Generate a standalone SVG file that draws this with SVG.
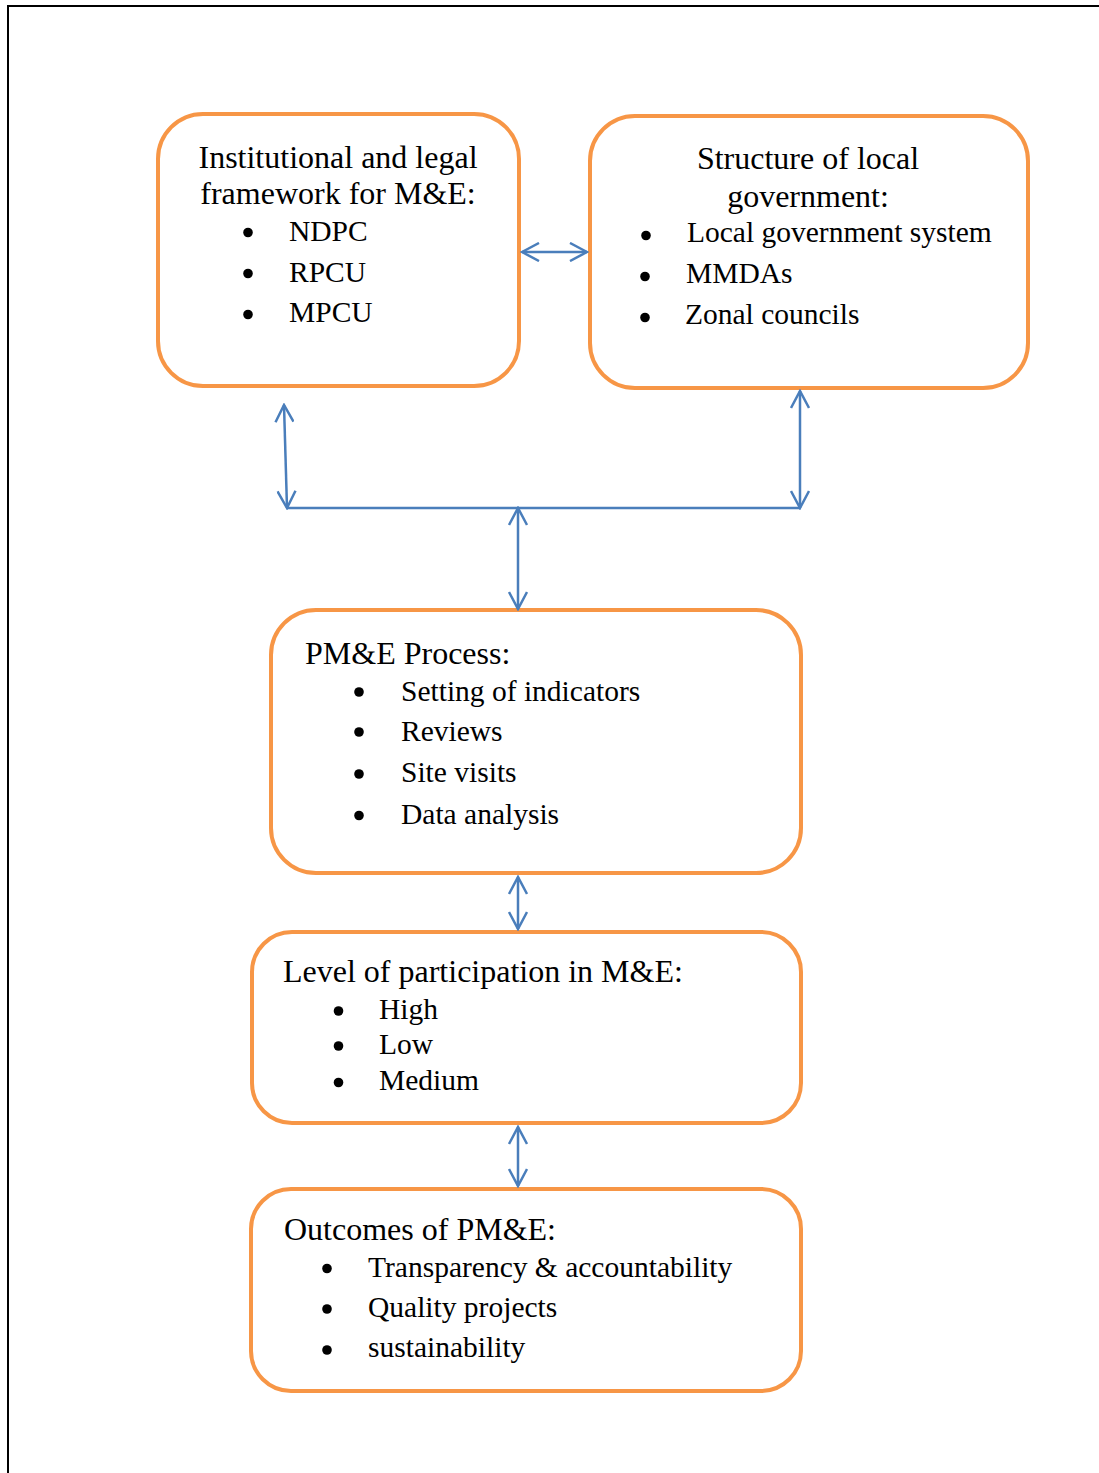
<svg xmlns="http://www.w3.org/2000/svg" width="1099" height="1473" viewBox="0 0 1099 1473">
<style>
.box{fill:#fff;stroke:#F79646;stroke-width:4}
.h{font-family:"Liberation Serif","Times New Roman",serif;font-size:32px;fill:#000}
.t{font-family:"Liberation Serif","Times New Roman",serif;font-size:29.5px;fill:#000}
.b{fill:#000}
.c{fill:none;stroke:#4A7EBB;stroke-width:2.5}
</style>
<defs>
<marker id="ah" viewBox="0 0 20 20" refX="18" refY="10" markerWidth="20" markerHeight="20" markerUnits="userSpaceOnUse" orient="auto-start-reverse">
<path d="M1,1 L18,10 L1,19" fill="none" stroke="#4A7EBB" stroke-width="2.5"/>
</marker>
</defs>
<rect width="1099" height="1473" fill="#fff"/>
<path d="M8,1473 V6 H1099" fill="none" stroke="#000" stroke-width="2"/>
<g id="nodeA">
<rect class="box" x="158" y="114" width="361" height="272" rx="45"/>
<text class="h" x="338" y="168" text-anchor="middle">Institutional and legal</text>
<text class="h" x="338" y="204" text-anchor="middle">framework for M&amp;E:</text>
<circle class="b" cx="248" cy="232.5" r="4.8"/><text class="t" x="289" y="241">NDPC</text>
<circle class="b" cx="248" cy="273.5" r="4.8"/><text class="t" x="289" y="282">RPCU</text>
<circle class="b" cx="248" cy="314.5" r="4.8"/><text class="t" x="289" y="322">MPCU</text>
</g>
<g id="nodeB">
<rect class="box" x="590" y="116" width="438" height="272" rx="45"/>
<text class="h" x="808" y="168.5" text-anchor="middle">Structure of local</text>
<text class="h" x="808" y="206.5" text-anchor="middle">government:</text>
<circle class="b" cx="646" cy="235.5" r="4.8"/><text class="t" x="687" y="242">Local government system</text>
<circle class="b" cx="645" cy="276.5" r="4.8"/><text class="t" x="686" y="283">MMDAs</text>
<circle class="b" cx="645" cy="317.5" r="4.8"/><text class="t" x="685" y="323.5">Zonal councils</text>
</g>
<g id="nodeC">
<rect class="box" x="271" y="610" width="530" height="263" rx="45"/>
<text class="h" x="305" y="663.5">PM&amp;E Process:</text>
<circle class="b" cx="359" cy="692" r="4.8"/><text class="t" x="401" y="700.5">Setting of indicators</text>
<circle class="b" cx="359" cy="732" r="4.8"/><text class="t" x="401" y="740.5">Reviews</text>
<circle class="b" cx="359" cy="774" r="4.8"/><text class="t" x="401" y="781.5">Site visits</text>
<circle class="b" cx="359" cy="815.5" r="4.8"/><text class="t" x="401" y="823.5">Data analysis</text>
</g>
<g id="nodeD">
<rect class="box" x="252" y="932" width="549" height="191" rx="40"/>
<text class="h" x="283" y="981.5">Level of participation in M&amp;E:</text>
<circle class="b" cx="338.5" cy="1011" r="4.8"/><text class="t" x="379" y="1018.5">High</text>
<circle class="b" cx="338.5" cy="1046" r="4.8"/><text class="t" x="379" y="1053.5">Low</text>
<circle class="b" cx="338.5" cy="1082.5" r="4.8"/><text class="t" x="379" y="1090">Medium</text>
</g>
<g id="nodeE">
<rect class="box" x="251" y="1189" width="550" height="202" rx="40"/>
<text class="h" x="284" y="1240">Outcomes of PM&amp;E:</text>
<circle class="b" cx="327" cy="1268.5" r="4.8"/><text class="t" x="368" y="1277">Transparency &amp; accountability</text>
<circle class="b" cx="327" cy="1309" r="4.8"/><text class="t" x="368" y="1317">Quality projects</text>
<circle class="b" cx="327" cy="1350" r="4.8"/><text class="t" x="368" y="1357">sustainability</text>
</g>
<g id="connectors">
<line class="c" x1="522" y1="252" x2="587" y2="252" marker-start="url(#ah)" marker-end="url(#ah)"/>
<line class="c" x1="284" y1="405" x2="287" y2="508" marker-start="url(#ah)" marker-end="url(#ah)"/>
<line class="c" x1="800" y1="391" x2="800" y2="508" marker-start="url(#ah)" marker-end="url(#ah)"/>
<line class="c" x1="287" y1="508" x2="800" y2="508"/>
<line class="c" x1="518" y1="508" x2="518" y2="609" marker-start="url(#ah)" marker-end="url(#ah)"/>
<line class="c" x1="518" y1="877" x2="518" y2="929" marker-start="url(#ah)" marker-end="url(#ah)"/>
<line class="c" x1="518" y1="1127" x2="518" y2="1186" marker-start="url(#ah)" marker-end="url(#ah)"/>
</g>
</svg>
